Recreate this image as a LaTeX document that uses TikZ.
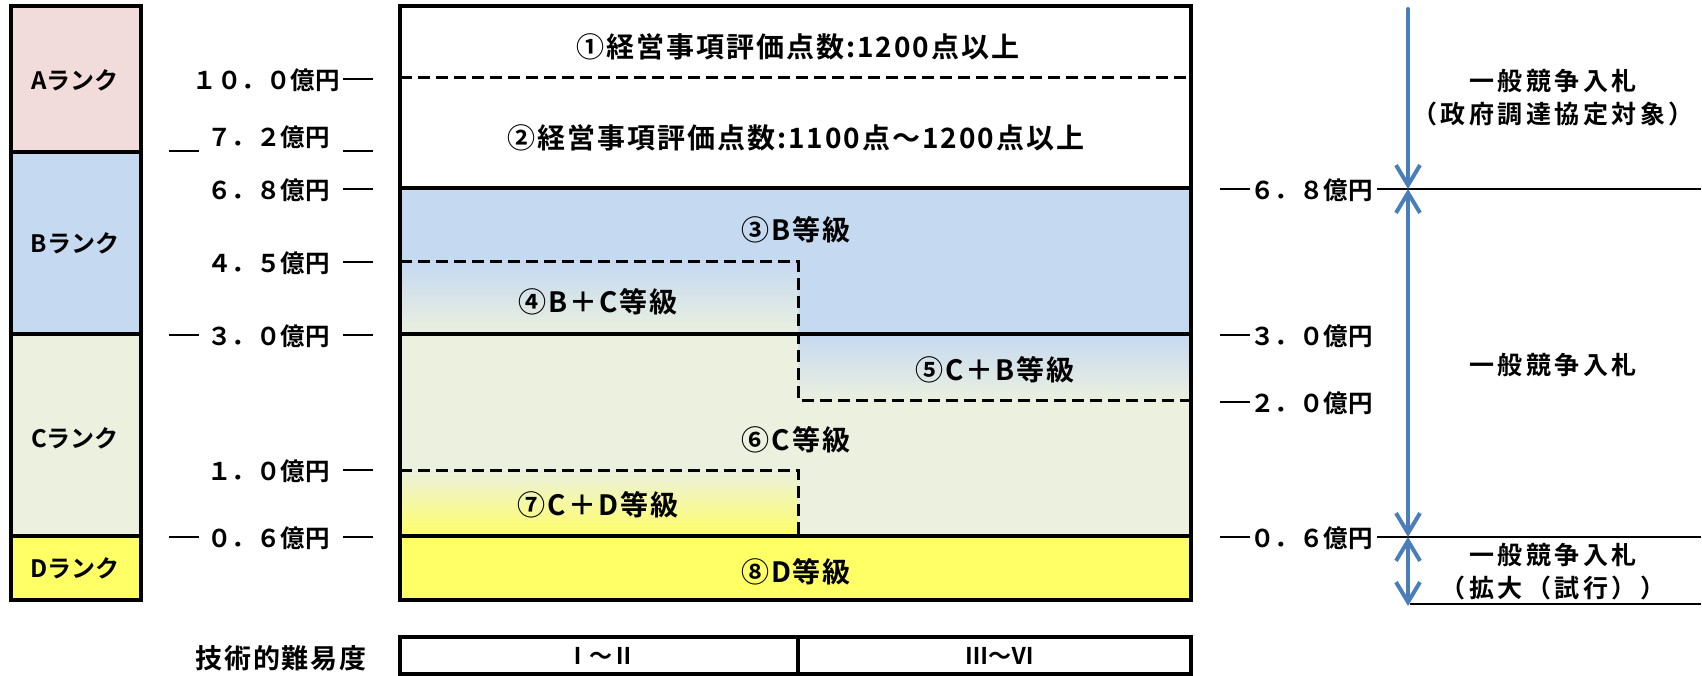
\documentclass[tikz,border=0pt]{standalone}
\usepackage{fontspec}
\usetikzlibrary{arrows.meta}
\newfontfamily\jp{Noto Sans CJK JP Bold}
\newfontfamily\jpls{Noto Sans CJK JP Bold}[LetterSpace=7]
\newfontfamily\jpwide{Noto Sans CJK JP Bold}[LetterSpace=14]
\definecolor{rankA}{HTML}{F2DCDB}
\definecolor{rankB}{HTML}{C5D9F1}
\definecolor{rankC}{HTML}{EBF0DF}
\definecolor{rankD}{HTML}{FFFF66}
\definecolor{bidblue}{HTML}{4A7EBB}
\tikzset{
  rankbox/.style={draw, line width=4pt},
  ranklbl/.style={font=\jp\fontsize{24}{24}\selectfont, inner sep=0pt},
  amount/.style={font=\jp\fontsize{24.5}{24.5}\selectfont, inner sep=0pt},
  grade/.style={font=\jpls\fontsize{28}{28}\selectfont, inner sep=0pt},
  bidlbl/.style={font=\jpwide\fontsize{25}{33}\selectfont, inner sep=0pt, align=center},
  mainline/.style={line width=3.5pt},
  dashline/.style={line width=3pt, dash pattern=on 12pt off 6pt},
  tickline/.style={line width=1.8pt},
  bidarrow/.style={draw=bidblue, line width=4pt, line cap=round,
    arrows={Straight Barb[length=20pt,width=24pt]-Straight Barb[length=20pt,width=24pt]}},
  bidarrowdown/.style={draw=bidblue, line width=4pt, line cap=round,
    arrows={-Straight Barb[length=20pt,width=24pt]}}
}
\begin{document}
\begin{tikzpicture}[x=1pt,y=-1pt]
\useasboundingbox (0,0) rectangle (1702,676);
% rank column
\filldraw[rankbox, fill=rankA] (11,6) rectangle (141,152);
\filldraw[rankbox, fill=rankB] (11,152) rectangle (141,334);
\filldraw[rankbox, fill=rankC] (11,334) rectangle (141,536);
\filldraw[rankbox, fill=rankD] (11,536) rectangle (141,600);
\node[ranklbl] (rA) at (75,80) {Aランク};
\node[ranklbl] (rB) at (75,243) {Bランク};
\node[ranklbl] (rC) at (75,438) {Cランク};
\node[ranklbl] (rD) at (75,568) {Dランク};
% main box fills
\fill[white] (400,6) rectangle (1191,188);
\fill[rankB] (400,188) rectangle (1191,334);
\shade[top color=rankB, bottom color=rankC] (400,262) rectangle (798,334);
\fill[rankC] (400,334) rectangle (1191,536);
\shade[top color=rankB, bottom color=rankC] (798,334) rectangle (1191,400);
\shade[top color=rankC, bottom color=rankD] (400,470) rectangle (798,536);
\fill[rankD] (400,536) rectangle (1191,600);
% main box lines
\draw[dashline] (400,78) -- (1191,78);
\draw[mainline] (400,188) -- (1191,188);
\draw[mainline] (400,334) -- (1191,334);
\draw[mainline] (400,536) -- (1191,536);
\draw[dashline] (400,262) -- (798,262) -- (798,400) -- (1191,400);
\draw[dashline] (400,470) -- (798,470) -- (798,536);
\draw[line width=4pt] (400,6) rectangle (1191,600);
% grade labels
\node[grade] (g1) at (798,47) {①経営事項評価点数:1200点以上};
\node[grade] (g2) at (796,138) {②経営事項評価点数:1100点～1200点以上};
\node[grade] (g3) at (796,230) {③B等級};
\node[grade] (g4) at (598,302) {④B＋C等級};
\node[grade] (g5) at (995,370) {⑤C＋B等級};
\node[grade] (g6) at (796,440) {⑥C等級};
\node[grade] (g7) at (598,505) {⑦C＋D等級};
\node[grade] (g8) at (796,572) {⑧D等級};
% left amounts
\node[amount, anchor=east] (l100) at (340,80) {１０．０億円};
\node[amount, anchor=east] (l72) at (330,137) {７．２億円};
\node[amount, anchor=east] (l68) at (330,190) {６．８億円};
\node[amount, anchor=east] (l45) at (330,263) {４．５億円};
\node[amount, anchor=east] (l30) at (330,336) {３．０億円};
\node[amount, anchor=east] (l10) at (330,471) {１．０億円};
\node[amount, anchor=east] (l06) at (330,538) {０．６億円};
\draw[tickline] (343,79) -- (373,79);
\draw[tickline] (169,151) -- (199,151);
\draw[tickline] (343,151) -- (373,151);
\draw[tickline] (343,189) -- (373,189);
\draw[tickline] (343,262) -- (373,262);
\draw[tickline] (169,335) -- (199,335);
\draw[tickline] (343,335) -- (373,335);
\draw[tickline] (343,470) -- (373,470);
\draw[tickline] (169,537) -- (199,537);
\draw[tickline] (343,537) -- (373,537);
% right amounts
\node[amount, anchor=west] (r68) at (1250,190) {６．８億円};
\node[amount, anchor=west] (r30) at (1250,336) {３．０億円};
\node[amount, anchor=west] (r20) at (1250,403) {２．０億円};
\node[amount, anchor=west] (r06) at (1250,538) {０．６億円};
\draw[tickline] (1220,189) -- (1250,189);
\draw[tickline] (1220,335) -- (1250,335);
\draw[tickline] (1220,402) -- (1250,402);
\draw[tickline] (1220,537) -- (1250,537);
\draw[tickline] (1377,189) -- (1701,189);
\draw[tickline] (1377,537) -- (1701,537);
\draw[tickline] (1410,604) -- (1701,604);
% arrows
\coordinate (a0) at (1408,9);
\coordinate (a1) at (1408,189);
\coordinate (a2) at (1408,537);
\coordinate (a3) at (1408,606);
\draw[bidarrowdown] (a0) -- (a1);
\draw[bidarrow] (a1) -- (a2);
\draw[bidarrow] (a2) -- (a3);
\node[bidlbl] (b1) at (1553,98) {一般競争入札\\（政府調達協定対象）};
\node[bidlbl] (b2) at (1553,365) {一般競争入札};
\node[bidlbl] (b3) at (1553,572) {一般競争入札\\（拡大（試行））};
% technical difficulty
\node[font=\jpls\fontsize{27}{27}\selectfont, inner sep=0pt] (tech) at (281,658) {技術的難易度};
\draw[line width=4pt] (400,637) rectangle (1191,674);
\draw[line width=4pt] (798,637) -- (798,674);
\node[font=\jp\fontsize{23}{23}\selectfont, inner sep=0pt] (t1) at (601,656) {Ⅰ～Ⅱ};
\node[font=\jp\fontsize{23}{23}\selectfont, inner sep=0pt] (t2) at (1000,656) {Ⅲ～Ⅵ};
\end{tikzpicture}
\end{document}
